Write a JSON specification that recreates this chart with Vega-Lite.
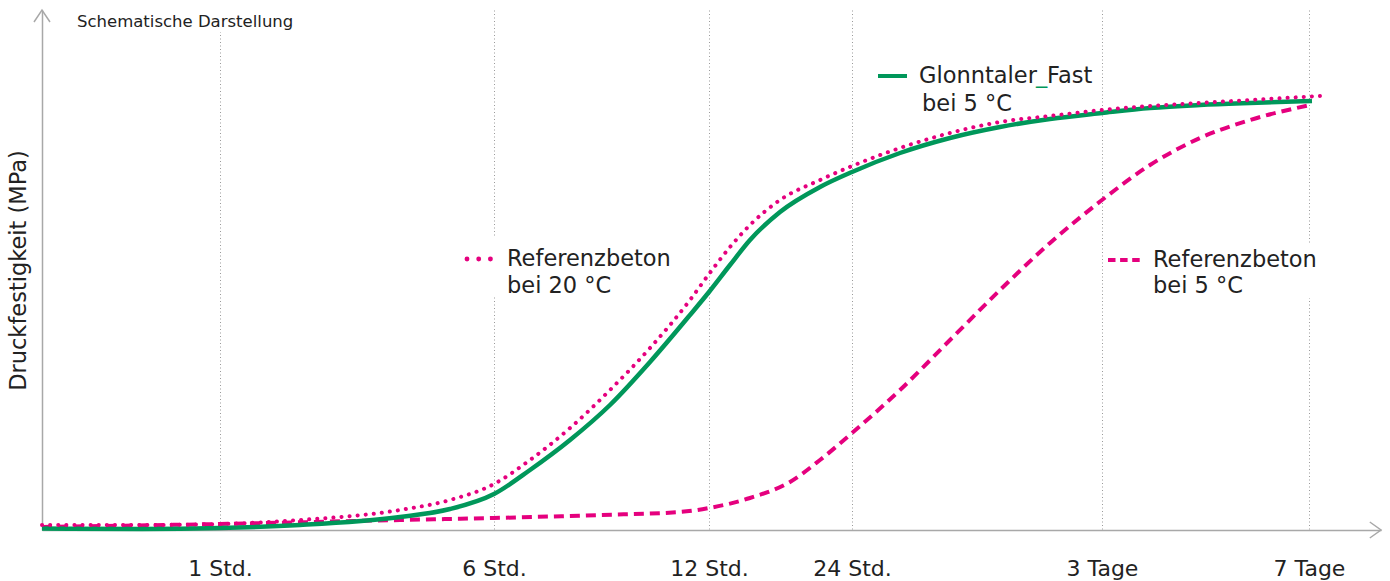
{
  "$schema": "https://vega.github.io/schema/vega-lite/v6.json",
  "width": 1339,
  "height": 520,
  "autosize": {"type": "none"},
  "padding": {"left": 42, "top": 10, "right": 9, "bottom": 51},
  "config": {"view": {"stroke": null}, "font": "DejaVu Sans"},
  "datasets": {
    "curves": [
      {"series": "g", "x": 0, "y": 1.5}, {"series": "g", "x": 100, "y": 1}, {"series": "g", "x": 178, "y": 2}, {"series": "g", "x": 258, "y": 5}, {"series": "g", "x": 358, "y": 13}, {"series": "g", "x": 408, "y": 21}, {"series": "g", "x": 452, "y": 36}, {"series": "g", "x": 488, "y": 60}, {"series": "g", "x": 528, "y": 90}, {"series": "g", "x": 568, "y": 125}, {"series": "g", "x": 608, "y": 168}, {"series": "g", "x": 648, "y": 215}, {"series": "g", "x": 667, "y": 238}, {"series": "g", "x": 688, "y": 265}, {"series": "g", "x": 708, "y": 290}, {"series": "g", "x": 738, "y": 318}, {"series": "g", "x": 778, "y": 343}, {"series": "g", "x": 810, "y": 358}, {"series": "g", "x": 858, "y": 377}, {"series": "g", "x": 908, "y": 392}, {"series": "g", "x": 958, "y": 403}, {"series": "g", "x": 1008, "y": 411}, {"series": "g", "x": 1060, "y": 417}, {"series": "g", "x": 1108, "y": 422}, {"series": "g", "x": 1158, "y": 425}, {"series": "g", "x": 1208, "y": 427}, {"series": "g", "x": 1270, "y": 429},
      {"series": "r20", "x": 0, "y": 5}, {"series": "r20", "x": 100, "y": 5}, {"series": "r20", "x": 178, "y": 6}, {"series": "r20", "x": 258, "y": 10}, {"series": "r20", "x": 358, "y": 20}, {"series": "r20", "x": 408, "y": 30}, {"series": "r20", "x": 452, "y": 46}, {"series": "r20", "x": 488, "y": 70}, {"series": "r20", "x": 528, "y": 102}, {"series": "r20", "x": 568, "y": 140}, {"series": "r20", "x": 608, "y": 182}, {"series": "r20", "x": 648, "y": 230}, {"series": "r20", "x": 667, "y": 256}, {"series": "r20", "x": 688, "y": 283}, {"series": "r20", "x": 708, "y": 305}, {"series": "r20", "x": 738, "y": 330}, {"series": "r20", "x": 778, "y": 350}, {"series": "r20", "x": 810, "y": 364}, {"series": "r20", "x": 858, "y": 382}, {"series": "r20", "x": 908, "y": 397}, {"series": "r20", "x": 958, "y": 408}, {"series": "r20", "x": 1008, "y": 414}, {"series": "r20", "x": 1060, "y": 420}, {"series": "r20", "x": 1108, "y": 424}, {"series": "r20", "x": 1158, "y": 427}, {"series": "r20", "x": 1208, "y": 430}, {"series": "r20", "x": 1278, "y": 434},
      {"series": "r5", "x": 0, "y": 3}, {"series": "r5", "x": 178, "y": 6}, {"series": "r5", "x": 358, "y": 10}, {"series": "r5", "x": 452, "y": 12}, {"series": "r5", "x": 558, "y": 15}, {"series": "r5", "x": 638, "y": 18}, {"series": "r5", "x": 667, "y": 22}, {"series": "r5", "x": 708, "y": 32}, {"series": "r5", "x": 748, "y": 48}, {"series": "r5", "x": 778, "y": 70}, {"series": "r5", "x": 810, "y": 97}, {"series": "r5", "x": 858, "y": 140}, {"series": "r5", "x": 908, "y": 190}, {"series": "r5", "x": 958, "y": 240}, {"series": "r5", "x": 1008, "y": 287}, {"series": "r5", "x": 1060, "y": 330}, {"series": "r5", "x": 1108, "y": 365}, {"series": "r5", "x": 1158, "y": 392}, {"series": "r5", "x": 1208, "y": 410}, {"series": "r5", "x": 1268, "y": 425}
    ]
  },
  "layer": [
    {
      "data": {"values": [
        {"x": 28, "x2": 258, "y": 498, "y2": 522},
        {"x": 418, "x2": 638, "y": 235, "y2": 293},
        {"x": 1063, "x2": 1280, "y": 232, "y2": 285}
      ]},
      "mark": {"type": "rect", "fill": "white", "stroke": null},
      "encoding": {
        "x": {"field": "x", "type": "quantitative", "scale": {"domain": [0, 1339], "nice": false, "zero": false},
          "axis": {"values": [178, 452, 667, 810, 1060, 1267], "title": null, "ticks": false,
            "labelExpr": "datum.value == 178 ? '1 Std.' : datum.value == 452 ? '6 Std.' : datum.value == 667 ? '12 Std.' : datum.value == 810 ? '24 Std.' : datum.value == 1060 ? '3 Tage' : '7 Tage'",
            "labelFontSize": 22, "labelColor": "#222222", "labelPadding": 28, "labelFlush": false, "labelOverlap": false,
            "grid": true, "gridColor": "#9a9a9a", "gridDash": [1, 2.5], "gridWidth": 1,
            "domainColor": "#a8a8a8", "domainWidth": 1.5}},
        "x2": {"field": "x2"},
        "y": {"field": "y", "type": "quantitative", "scale": {"domain": [0, 520], "nice": false, "zero": false},
          "axis": {"title": "Druckfestigkeit (MPa)", "labels": false, "ticks": false, "grid": false,
            "titleFontSize": 22.5, "titleFontWeight": "normal", "titleColor": "#222222", "titlePadding": 12,
            "domainColor": "#a8a8a8", "domainWidth": 1.5}},
        "y2": {"field": "y2"}
      }
    },
    {
      "data": {"name": "curves"},
      "transform": [{"filter": "datum.series == 'r5'"}],
      "mark": {"type": "line", "interpolate": "monotone", "stroke": "#e5007e", "strokeWidth": 4, "strokeDash": [10, 6]},
      "encoding": {"x": {"field": "x", "type": "quantitative"}, "y": {"field": "y", "type": "quantitative"}}
    },
    {
      "data": {"name": "curves"},
      "transform": [{"filter": "datum.series == 'g'"}],
      "mark": {"type": "line", "interpolate": "monotone", "stroke": "#00975a", "strokeWidth": 4.5},
      "encoding": {"x": {"field": "x", "type": "quantitative"}, "y": {"field": "y", "type": "quantitative"}}
    },
    {
      "data": {"name": "curves"},
      "transform": [{"filter": "datum.series == 'r20'"}],
      "mark": {"type": "line", "interpolate": "monotone", "stroke": "#e5007e", "strokeWidth": 4, "strokeCap": "round", "strokeDash": [0.1, 8]},
      "encoding": {"x": {"field": "x", "type": "quantitative"}, "y": {"field": "y", "type": "quantitative"}}
    },
    {
      "data": {"values": [{"x": 425, "y": 271}, {"x": 436.7, "y": 271}, {"x": 448.4, "y": 271}]},
      "mark": {"type": "circle", "color": "#e5007e", "size": 24, "opacity": 1},
      "encoding": {"x": {"field": "x", "type": "quantitative"}, "y": {"field": "y", "type": "quantitative"}}
    },
    {
      "data": {"values": [{"x": 836, "y": 454}, {"x": 865, "y": 454}]},
      "mark": {"type": "line", "stroke": "#00975a", "strokeWidth": 4},
      "encoding": {"x": {"field": "x", "type": "quantitative"}, "y": {"field": "y", "type": "quantitative"}}
    },
    {
      "data": {"values": [{"x": 1066, "y": 270}, {"x": 1098, "y": 270}]},
      "mark": {"type": "line", "stroke": "#e5007e", "strokeWidth": 4, "strokeDash": [7.5, 4.6]},
      "encoding": {"x": {"field": "x", "type": "quantitative"}, "y": {"field": "y", "type": "quantitative"}}
    },
    {
      "data": {"values": [
        {"x": 465, "y": 264, "t": "Referenzbeton"},
        {"x": 465, "y": 237, "t": "bei 20 °C"},
        {"x": 877, "y": 447, "t": "Glonntaler"},
        {"x": 1005, "y": 447, "t": "Fast"},
        {"x": 880, "y": 419, "t": "bei 5 °C"},
        {"x": 1111, "y": 263, "t": "Referenzbeton"},
        {"x": 1111, "y": 237, "t": "bei 5 °C"}
      ]},
      "mark": {"type": "text", "align": "left", "baseline": "alphabetic", "fontSize": 22.5, "color": "#222222"},
      "encoding": {"x": {"field": "x", "type": "quantitative"}, "y": {"field": "y", "type": "quantitative"}, "text": {"field": "t"}}
    },
    {
      "data": {"values": [{"x": 994, "y": 447, "t": "_"}]},
      "mark": {"type": "text", "align": "left", "baseline": "alphabetic", "fontSize": 22.5, "color": "#00975a"},
      "encoding": {"x": {"field": "x", "type": "quantitative"}, "y": {"field": "y", "type": "quantitative"}, "text": {"field": "t"}}
    },
    {
      "data": {"values": [{"x": 35, "y": 503, "t": "Schematische Darstellung"}]},
      "mark": {"type": "text", "align": "left", "baseline": "alphabetic", "fontSize": 16.5, "color": "#222222"},
      "encoding": {"x": {"field": "x", "type": "quantitative"}, "y": {"field": "y", "type": "quantitative"}, "text": {"field": "t"}}
    },
    {
      "data": {"values": [{"x": 1339, "y": 0}]},
      "mark": {"type": "point", "shape": "M-1.4,-1L0,0L-1.4,1", "filled": false, "stroke": "#a8a8a8", "strokeWidth": 1.5, "size": 256, "opacity": 1},
      "encoding": {"x": {"field": "x", "type": "quantitative"}, "y": {"field": "y", "type": "quantitative"}}
    },
    {
      "data": {"values": [{"x": 0, "y": 520}]},
      "mark": {"type": "point", "shape": "M-1,1.5L0,0L1,1.5", "filled": false, "stroke": "#a8a8a8", "strokeWidth": 1.5, "size": 256, "opacity": 1},
      "encoding": {"x": {"field": "x", "type": "quantitative"}, "y": {"field": "y", "type": "quantitative"}}
    }
  ]
}
